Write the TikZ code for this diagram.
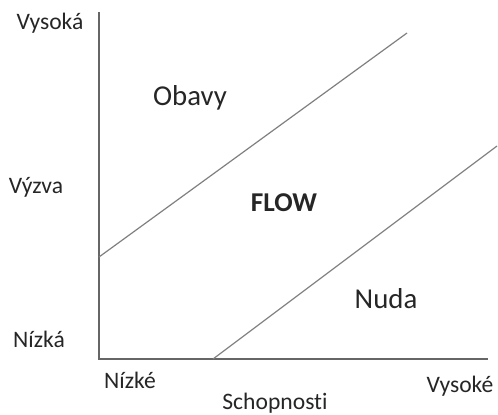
\documentclass[tikz,border=0pt]{standalone}
\usepackage{fontspec}
\setmainfont[Ligatures=NoCommon]{Carlito}
\begin{document}
\begin{tikzpicture}[x=0.5pt,y=-0.5pt,
  small/.style={font=\fontsize{11.8}{13}\selectfont, text=black!85, inner sep=0pt},
  big/.style={font=\fontsize{14.4}{16}\selectfont, text=black!85, inner sep=0pt},
  axis/.style={draw=black!60, line width=1.1pt},
  border/.style={draw=black!50, line width=0.6pt}]
\useasboundingbox (0,0) rectangle (498,414);
\coordinate (top) at (99,12);
\coordinate (origin) at (99,359);
\coordinate (xend) at (488,359);
\coordinate (u1) at (99,257);
\coordinate (u2) at (407,33);
\coordinate (l1) at (213,359);
\coordinate (l2) at (497,146);
\draw[axis] (top) -- (origin) -- (xend);
\draw[border] (u1) -- (u2);
\draw[border] (l1) -- (l2);
\node[small] (vysoka) at (50,23) {Vysoká};
\node[small] (vyzva) at (36,187) {Výzva};
\node[small] (nizka) at (39,339) {Nízká};
\node[small] (nizke) at (130,380) {Nízké};
\node[small] (vysoke) at (460,386) {Vysoké};
\node[small] (schop) at (275,403) {Schopnosti};
\node[big] (obavy) at (190,98) {Obavy};
\node[big, font=\fontsize{13.6}{16}\selectfont\bfseries] (flow) at (284,203) {FLOW};
\node[big] (nuda) at (386,299) {Nuda};
\end{tikzpicture}
\end{document}
